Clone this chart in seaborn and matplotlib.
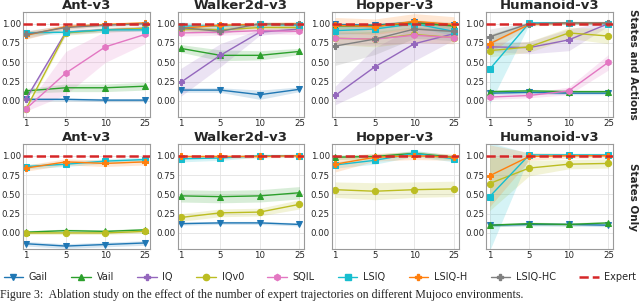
import numpy as np
import pandas as pd
import seaborn as sns
import matplotlib.pyplot as plt
from matplotlib.lines import Line2D

envs = ["Ant-v3", "Walker2d-v3", "Hopper-v3", "Humanoid-v3"]
n_traj = ["1", "5", "10", "25"]
methods = ["Gail", "Vail", "IQ", "IQv0", "SQIL", "LSIQ", "LSIQ-H", "LSIQ-HC"]

# --- States and Actions: one list per env (Ant, Walker, Hopper, Humanoid)
gail_sa = [[0.02, 0.02, 0.01, 0.01], [0.14, 0.14, 0.08, 0.15], [0.99, 0.98, 1.02, 0.98], [0.10, 0.11, 0.10, 0.10]]
vail_sa = [[0.13, 0.17, 0.17, 0.19], [0.68, 0.59, 0.59, 0.64], [0.97, 0.97, 1.01, 0.97], [0.12, 0.13, 0.12, 0.12]]
iq_sa = [[0.03, 0.89, 0.92, 0.94], [0.24, 0.59, 0.89, 0.93], [0.07, 0.44, 0.74, 0.87], [0.70, 0.69, 0.79, 1.00]]
iqv0_sa = [[-0.10, 0.88, 0.92, 0.94], [0.93, 0.92, 0.95, 0.95], [0.81, 0.80, 0.86, 0.82], [0.65, 0.70, 0.88, 0.84]]
sqil_sa = [[-0.10, 0.36, 0.70, 0.86], [0.88, 0.89, 0.91, 0.90], [0.81, 0.80, 0.85, 0.82], [0.05, 0.07, 0.13, 0.50]]
lsiq_sa = [[0.88, 0.89, 0.92, 0.92], [0.97, 0.97, 0.99, 0.98], [0.91, 0.93, 1.00, 0.90], [0.41, 1.01, 1.01, 1.00]]
lsiqh_sa = [[0.85, 0.96, 0.99, 1.01], [0.94, 0.98, 0.99, 1.00], [0.98, 0.96, 1.03, 0.99], [0.74, 0.99, 1.01, 1.01]]
lsiqhc_sa = [[0.86, 0.95, 0.98, 1.00], [0.95, 0.90, 1.00, 0.99], [0.71, 0.80, 0.93, 0.90], [0.83, 1.00, 1.01, 1.01]]

gail_sa_sd = [[0.02] * 4, [0.03, 0.03, 0.06, 0.03], [0.02] * 4, [0.02] * 4]
vail_sa_sd = [[0.03, 0.05, 0.05, 0.05], [0.05, 0.07, 0.06, 0.04], [0.03] * 4, [0.02] * 4]
iq_sa_sd = [[0.03] * 4, [0.18, 0.15, 0.04, 0.03], [0.12, 0.25, 0.22, 0.08], [0.06, 0.08, 0.14, 0.03]]
iqv0_sa_sd = [[0.02, 0.03, 0.03, 0.03], [0.03] * 4, [0.08, 0.10, 0.10, 0.08], [0.08, 0.07, 0.07, 0.10]]
sqil_sa_sd = [[0.03, 0.28, 0.20, 0.12], [0.04] * 4, [0.08, 0.08, 0.10, 0.08], [0.03, 0.03, 0.05, 0.10]]
lsiq_sa_sd = [[0.03, 0.02, 0.02, 0.02], [0.05, 0.03, 0.02, 0.02], [0.05] * 4, [0.45, 0.02, 0.02, 0.02]]
lsiqh_sa_sd = [[0.05, 0.03, 0.02, 0.02], [0.03] * 4, [0.10] * 4, [0.12, 0.02, 0.02, 0.02]]
lsiqhc_sa_sd = [[0.05, 0.03, 0.02, 0.02], [0.03, 0.04, 0.02, 0.02], [0.25, 0.20, 0.12, 0.12], [0.10, 0.02, 0.02, 0.02]]

# --- States Only
gail_so = [[-0.14, -0.17, -0.15, -0.13], [0.12, 0.13, 0.13, 0.11], None, [0.10, 0.11, 0.11, 0.10]]
vail_so = [[0.01, 0.03, 0.02, 0.04], [0.48, 0.47, 0.48, 0.52], [0.98, 0.99, 1.03, 0.98], [0.10, 0.12, 0.11, 0.13]]
iqv0_so = [[0.00, 0.00, 0.00, 0.02], [0.20, 0.26, 0.27, 0.37], [0.56, 0.54, 0.56, 0.57], [0.64, 0.84, 0.89, 0.90]]
lsiq_so = [[0.86, 0.89, 0.93, 0.95], [0.96, 0.97, 1.00, 1.00], [0.88, 0.94, 1.03, 0.96], [0.47, 1.01, 1.01, 1.01]]
lsiqh_so = [[0.84, 0.92, 0.90, 0.92], [0.99, 0.99, 0.99, 1.00], [0.89, 0.98, 1.00, 0.98], [0.74, 0.99, 1.00, 1.00]]

gail_so_sd = [[0.03] * 4, [0.02] * 4, None, [0.02] * 4]
vail_so_sd = [[0.02] * 4, [0.08] * 4, [0.03] * 4, [0.02] * 4]
iqv0_so_sd = [[0.02] * 4, [0.05, 0.05, 0.05, 0.06], [0.10, 0.11, 0.10, 0.10], [0.35, 0.10, 0.06, 0.06]]
lsiq_so_sd = [[0.03] * 4, [0.04, 0.03, 0.02, 0.02], [0.04, 0.05, 0.04, 0.04], [0.70, 0.02, 0.02, 0.02]]
lsiqh_so_sd = [[0.04] * 4, [0.02] * 4, [0.10, 0.05, 0.05, 0.04], [0.40, 0.05, 0.03, 0.03]]

expert = 1.0
row_labels = ["States and Actions", "States Only"]
caption = ("Figure 3:  Ablation study on the effect of the number of expert trajectories "
           "on different Mujoco environments.")

colors = {"Gail": "#1f77b4", "Vail": "#2ca02c", "IQ": "#9467bd", "IQv0": "#bcbd22",
          "SQIL": "#e377c2", "LSIQ": "#17becf", "LSIQ-H": "#ff7f0e", "LSIQ-HC": "#7f7f7f"}
markers = {"Gail": "v", "Vail": "^", "IQ": "P", "IQv0": "o", "SQIL": "h",
           "LSIQ": "s", "LSIQ-H": "P", "LSIQ-HC": "P"}

sa = {"Gail": (gail_sa, gail_sa_sd), "Vail": (vail_sa, vail_sa_sd), "IQ": (iq_sa, iq_sa_sd),
      "IQv0": (iqv0_sa, iqv0_sa_sd), "SQIL": (sqil_sa, sqil_sa_sd), "LSIQ": (lsiq_sa, lsiq_sa_sd),
      "LSIQ-H": (lsiqh_sa, lsiqh_sa_sd), "LSIQ-HC": (lsiqhc_sa, lsiqhc_sa_sd)}
so = {"Gail": (gail_so, gail_so_sd), "Vail": (vail_so, vail_so_sd), "IQv0": (iqv0_so, iqv0_so_sd),
      "LSIQ": (lsiq_so, lsiq_so_sd), "LSIQ-H": (lsiqh_so, lsiqh_so_sd)}

sns.set_style("whitegrid", {"grid.color": "#e3e3e3", "axes.edgecolor": "#9a9a9a"})
plt.rcParams["font.family"] = ["DejaVu Sans"]

fig, axes = plt.subplots(2, 4, figsize=(6.4, 3.02), dpi=100)
fig.subplots_adjust(left=0.036, right=0.958, top=0.960, bottom=0.175, wspace=0.22, hspace=0.257)
pos = np.arange(len(n_traj))

for r, data in enumerate([sa, so]):
    for c, env in enumerate(envs):
        ax = axes[r, c]
        for m in methods:
            if m not in data or data[m][0][c] is None:
                continue
            mu = np.array(data[m][0][c])
            sd = np.array(data[m][1][c])
            ax.fill_between(pos, mu - sd, mu + sd, color=colors[m], alpha=0.18, lw=0)
            df = pd.DataFrame({"n": pos, "ret": mu})
            sns.lineplot(data=df, x="n", y="ret", ax=ax, color=colors[m], marker=markers[m],
                         markersize=4.5, markeredgecolor=colors[m], lw=1, legend=False)
        ax.axhline(expert, color="#d62728", ls="--", lw=1.8, zorder=5)
        ax.set_xlim(-0.08, 3.12)
        ax.set_ylim(-0.21, 1.15)
        ax.set_xticks(pos)
        ax.set_xticklabels(n_traj)
        ax.set_yticks([0, 0.25, 0.5, 0.75, 1.0])
        ax.set_yticklabels(["0.00", "0.25", "0.50", "0.75", "1.00"])
        ax.tick_params(labelsize=6.2, pad=1.5, length=0)
        ax.set_xlabel("")
        ax.set_ylabel("")
        ax.grid(lw=0.6)
        for s in ax.spines.values():
            s.set_linewidth(0.8)
        ax.set_title(env, fontsize=9.5, fontweight="bold", pad=2)
    axes[r, 3].text(1.155, 0.5, row_labels[r], rotation=270, transform=axes[r, 3].transAxes,
                    ha="center", va="center", fontsize=7.5, fontweight="bold")

handles = [Line2D([], [], color=colors[m], marker=markers[m], markersize=4.5, lw=1) for m in methods]
handles.append(Line2D([], [], color="#d62728", ls="--", lw=1.8))
fig.legend(handles, methods + ["Expert"], loc="center", bbox_to_anchor=(0.5, 0.083), ncol=9,
           frameon=False, fontsize=7, handlelength=2.0, handletextpad=0.6, columnspacing=2.4)

fig.text(0.0, 0.003, caption, va="bottom", ha="left", fontsize=8.6, family="Liberation Serif")

fig.savefig("out.png", dpi=100)
